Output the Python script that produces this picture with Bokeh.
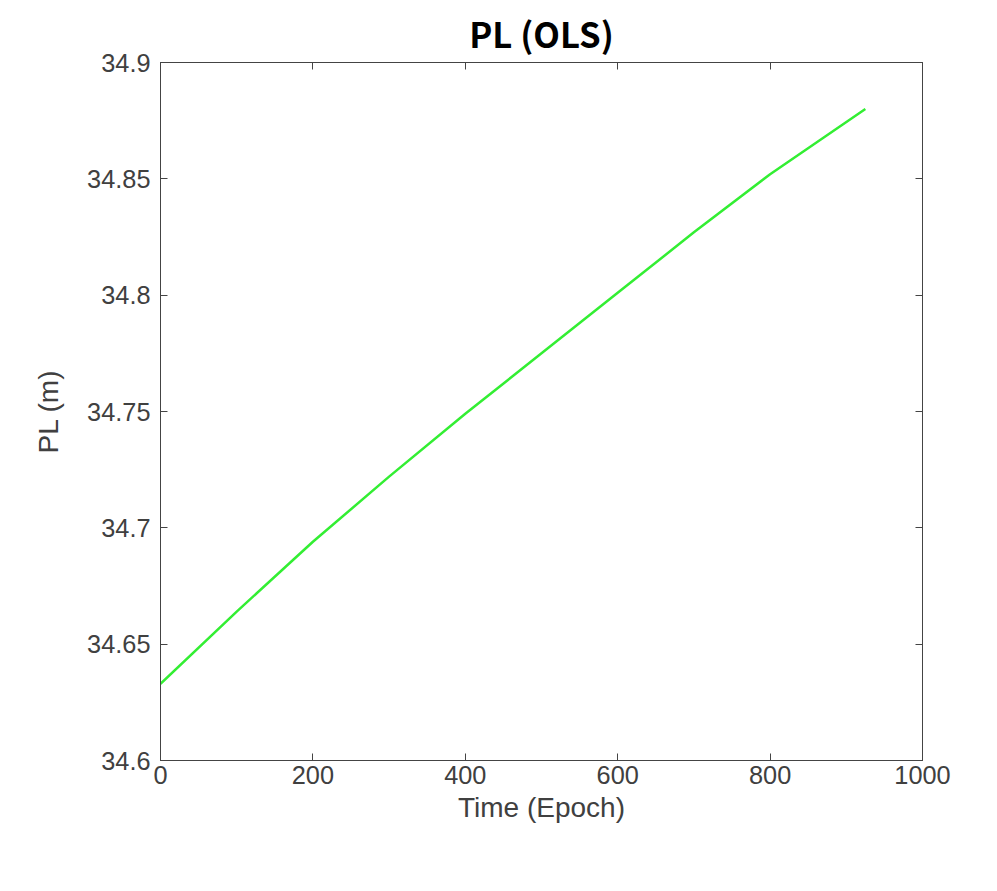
from bokeh.plotting import figure
from bokeh.models import LinearAxis, Range1d, FixedTicker
from bokeh.embed import file_html
from bokeh.resources import INLINE

# values
epoch = [0, 100, 200, 300, 400, 500, 600, 700, 800, 925]
pl = [34.633, 34.664, 34.694, 34.722, 34.749, 34.775, 34.801, 34.827, 34.852, 34.880]

x_ticks = [0, 200, 400, 600, 800, 1000]
y_ticks = [34.6, 34.65, 34.7, 34.75, 34.8, 34.85, 34.9]

p = figure(width=960, height=875, output_backend="svg", toolbar_location=None,
           x_range=Range1d(0, 1000), y_range=Range1d(34.6, 34.9),
           min_border_left=160, min_border_right=38, min_border_top=60, min_border_bottom=115,
           title="PL (OLS)")
p.title.text_font = "Noto Sans CJK SC"
p.title.text_font_size = "26pt"
p.title.text_font_style = "bold"
p.title.align = "center"
p.title.text_color = "black"

p.line(epoch, pl, line_color="#33ee33", line_width=2.5)

p.grid.visible = False
p.outline_line_color = "#444444"
p.xaxis.axis_label = "Time (Epoch)"
p.yaxis.axis_label = "PL (m)"
p.xaxis.ticker = FixedTicker(ticks=x_ticks)
p.yaxis.ticker = FixedTicker(ticks=y_ticks)
p.yaxis.major_label_overrides = {34.6: "34.6", 34.7: "34.7", 34.8: "34.8", 34.9: "34.9"}

top = LinearAxis(ticker=FixedTicker(ticks=x_ticks),
                 major_label_overrides={t: "" for t in x_ticks})
right = LinearAxis(ticker=FixedTicker(ticks=y_ticks),
                   major_label_overrides={t: "" for t in y_ticks})
p.add_layout(top, "above")
p.add_layout(right, "right")

for ax in p.axis:
    ax.major_tick_in = 7
    ax.major_tick_out = 0
    ax.minor_tick_line_color = None
    ax.axis_line_color = "#444444"
    ax.major_tick_line_color = "#444444"
    ax.major_label_text_font = "Liberation Sans"
    ax.major_label_text_font_size = "19pt"
    ax.major_label_text_color = "#404040"
    ax.axis_label_text_font = "Liberation Sans"
    ax.axis_label_text_font_size = "21pt"
    ax.axis_label_text_font_style = "normal"
    ax.axis_label_text_color = "#404040"
top.major_label_standoff = 0
right.major_label_standoff = 0
p.xaxis[0].major_label_standoff = 18
p.xaxis[0].axis_label_standoff = 18
p.yaxis[0].major_label_standoff = 10
p.yaxis[0].axis_label_standoff = 20
p.yaxis[0].major_label_orientation = "horizontal"

open("out.html", "w").write(file_html(p, INLINE))
